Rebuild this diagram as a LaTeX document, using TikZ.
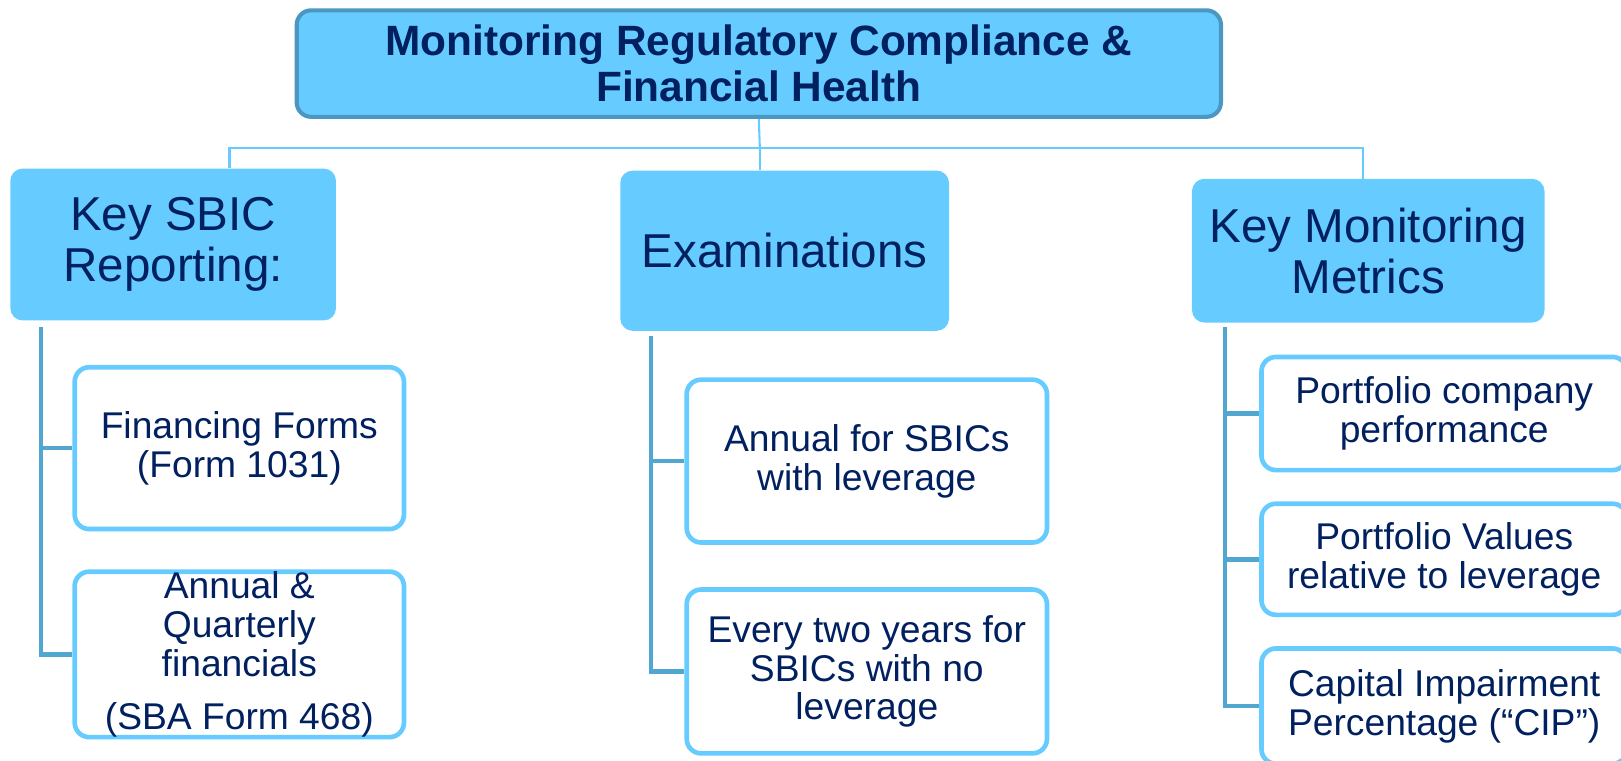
\documentclass[tikz,border=0pt]{standalone}
\usepackage{fontspec}
\setmainfont{Liberation Sans}
\usetikzlibrary{positioning}
\definecolor{boxblue}{HTML}{66CCFF}
\definecolor{edgeblue}{HTML}{4B97C1}
\definecolor{spineblue}{HTML}{52A7D1}
\definecolor{navy}{HTML}{002060}
\begin{document}
\begin{tikzpicture}[x=1pt, y=1pt,
    head/.style={draw=edgeblue, line width=4pt, fill=boxblue, rounded corners=14pt, text=navy,
        font=\fontsize{41}{45}\selectfont\bfseries, align=center},
    topic/.style={fill=boxblue, rounded corners=12pt, text=navy,
        font=\fontsize{46}{49}\selectfont, align=center},
    item/.style={draw=boxblue, line width=4.5pt, fill=white, rounded corners=14pt, text=navy,
        font=\fontsize{36}{37.5}\selectfont, align=center, inner sep=0pt},
    link/.style={draw=boxblue, line width=2pt},
    spine/.style={draw=spineblue, line width=4.5pt}]
    \useasboundingbox (0,0) rectangle (1568,-736);
    % title and the three topics
    \node[head, minimum width=894pt, minimum height=103pt] (0) at (734,-61.5)
        {Monitoring Regulatory Compliance \&\\Financial Health};
    \node[topic, minimum width=315pt, minimum height=147pt] (1) at (167.5,-236.5) {Key SBIC\\Reporting:};
    \node[topic, minimum width=318pt, minimum height=155pt] (2) at (759,-242.5) {Examinations};
    \node[topic, minimum width=341pt, minimum height=139pt] (3) at (1323.5,-242.5) {Key Monitoring\\Metrics};
    % items
    \node[item, minimum width=318.5pt, minimum height=156.5pt] (11) at (231.5,-433.5) {Financing Forms\\(Form 1031)};
    \node[item, minimum width=318.5pt, minimum height=154.5pt] (12) at (231.5,-633)
        {Annual \&\\Quarterly\\financials\\[14pt](SBA Form 468)};
    \node[item, minimum width=348.5pt, minimum height=157.5pt] (21) at (838.5,-446) {Annual for SBICs\\with leverage};
    \node[item, minimum width=348.5pt, minimum height=158.5pt] (22) at (838.5,-649.5)
        {Every two years for\\SBICs with no\\leverage};
    \node[item, minimum width=353.5pt, minimum height=109.5pt] (31) at (1397,-400) {Portfolio company\\performance};
    \node[item, minimum width=353.5pt, minimum height=107.5pt] (32) at (1397,-541) {Portfolio Values\\relative to leverage};
    \node[item, minimum width=353.5pt, minimum height=111.5pt] (33) at (1397,-683)
        {Capital Impairment\\Percentage (“CIP”)};
    % connectors
    \coordinate (hub) at (735,-143);
    \draw[link] (0.south) -- (hub);
    \draw[link] (hub) -| ([xshift=54.5pt]1.north);
    \draw[link] (hub) -- (hub |- 2.north);
    \draw[link] (hub) -| ([xshift=-5.5pt]3.north);
    \coordinate (s1) at ([shift={(30pt,-6pt)}]1.south west);
    \coordinate (s2) at ([shift={(30pt,-5pt)}]2.south west);
    \coordinate (s3) at ([shift={(32pt,-4pt)}]3.south west);
    \draw[spine] (s1) |- (11.west);
    \draw[spine] (s1) |- (12.west);
    \draw[spine] (s2) |- (21.west);
    \draw[spine] (s2) |- (22.west);
    \draw[spine] (s3) |- (31.west);
    \draw[spine] (s3) |- (32.west);
    \draw[spine] (s3) |- (33.west);
\end{tikzpicture}
\end{document}
